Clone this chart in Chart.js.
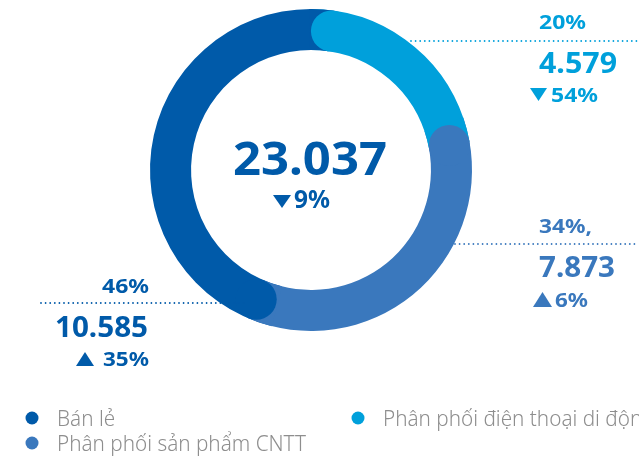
<!DOCTYPE html>
<html>
<head>
<meta charset="utf-8">
<script src="https://cdn.jsdelivr.net/npm/chart.js@4/dist/chart.umd.min.js"></script>
<style>
  html, body { margin: 0; padding: 0; background: #ffffff; }
  #wrap { width: 639px; height: 461px; position: relative; }
</style>
</head>
<body>
<div id="wrap"><canvas id="revenueChart"></canvas></div>
<script>
// co cau doanh thu theo mang
const segmentLabels = ["Phân phối điện thoại di động", "Phân phối sản phẩm CNTT", "Bán lẻ"];
const segmentValues = [4579, 7873, 10585];
const segmentShares = ["20%", "34%,", "46%"];
const segmentChanges = ["▼54%", "▲6%", "▲ 35%"];
const segmentColors = ["#00A0DB", "#3A78BD", "#005AA9"];

const totalValue = 23037;
const totalChange = "▼9%";

// thu tu chu thich
const legendOrder = [2, 0, 1];

function formatVN(n) {
    return String(n).replace(/\B(?=(\d{3})+(?!\d))/g, ".");
}

const FONT = "'Noto Sans', sans-serif";

// ve chu, co gian ngang cho vua khung left..right
function fitText(ctx, str, left, right, y, size, color, weight) {
    ctx.save();
    ctx.font = (weight || 700) + " " + size + "px " + FONT;
    ctx.fillStyle = color;
    ctx.textAlign = "left";
    ctx.textBaseline = "alphabetic";
    const w = ctx.measureText(str).width;
    ctx.translate(left, y);
    ctx.scale((right - left) / w, 1);
    ctx.fillText(str, 0, 0);
    ctx.restore();
}

function triangle(ctx, x1, x2, top, bottom, up, color) {
    ctx.fillStyle = color;
    ctx.beginPath();
    if (up) {
        ctx.moveTo(x1, bottom);
        ctx.lineTo(x2, bottom);
        ctx.lineTo((x1 + x2) / 2, top);
    } else {
        ctx.moveTo(x1, top);
        ctx.lineTo(x2, top);
        ctx.lineTo((x1 + x2) / 2, bottom);
    }
    ctx.closePath();
    ctx.fill();
}

// "▲6%" -> mui ten + chu
function change(ctx, str, tri, box, color) {
    triangle(ctx, tri[0], tri[1], tri[2], tri[3], str[0] === "▲", color);
    fitText(ctx, str.slice(1).trim(), box[0], box[1], box[2], box[3], color);
}

function dotted(ctx, x1, x2, y, color) {
    ctx.fillStyle = color;
    for (let x = x1; x <= x2; x += 4.6) {
        ctx.beginPath();
        ctx.arc(x, y, 0.9, 0, Math.PI * 2);
        ctx.fill();
    }
}

// dau tron o dau moi cung, de len cung truoc do
const roundCaps = {
    id: "roundCaps",
    afterDatasetsDraw(chart) {
        const ctx = chart.ctx;
        const arcs = chart.getDatasetMeta(0).data;
        ctx.save();
        arcs.forEach(function (arc, i) {
            const prev = (i + arcs.length - 1) % arcs.length;
            const p = arc.getProps(["x", "y", "startAngle", "innerRadius", "outerRadius"], true);
            const half = (p.outerRadius - p.innerRadius) / 2;
            const mid = p.innerRadius + half;
            const d = half / mid;
            // phan vuong cua cung truoc
            ctx.fillStyle = segmentColors[prev];
            ctx.beginPath();
            ctx.arc(p.x, p.y, p.outerRadius, p.startAngle - 0.01, p.startAngle + d);
            ctx.arc(p.x, p.y, p.innerRadius, p.startAngle + d, p.startAngle - 0.01, true);
            ctx.closePath();
            ctx.fill();
            // dau tron
            ctx.fillStyle = segmentColors[i];
            ctx.beginPath();
            ctx.arc(p.x + mid * Math.cos(p.startAngle + d), p.y + mid * Math.sin(p.startAngle + d), half, 0, Math.PI * 2);
            ctx.fill();
        });
        ctx.restore();
    }
};

// nhan gia tri, tong va chu thich
const labelsPlugin = {
    id: "labelsPlugin",
    afterDraw(chart) {
        const ctx = chart.ctx;
        const c = segmentColors;
        ctx.save();

        // tong o giua
        fitText(ctx, formatVN(totalValue), 233, 387, 175, 46, c[2]);
        change(ctx, totalChange, [273, 291, 195, 208], [294, 330, 208, 25], c[2]);

        // dien thoai di dong
        dotted(ctx, 411, 637, 41, c[0]);
        fitText(ctx, segmentShares[0], 539, 586, 29, 19, c[0]);
        fitText(ctx, formatVN(segmentValues[0]), 539, 617, 73, 28, c[0]);
        change(ctx, segmentChanges[0], [530, 547, 88, 101], [551, 598, 102, 20], c[0]);

        // san pham CNTT
        dotted(ctx, 455, 637, 244, c[1]);
        fitText(ctx, segmentShares[1], 539, 592, 233, 20, c[1]);
        fitText(ctx, formatVN(segmentValues[1]), 539, 615, 277, 28, c[1]);
        change(ctx, segmentChanges[1], [533, 552, 292, 307], [555, 588, 307, 20], c[1]);

        // ban le
        dotted(ctx, 41, 245, 303, c[2]);
        fitText(ctx, segmentShares[2], 102, 149, 293, 20, c[2]);
        fitText(ctx, formatVN(segmentValues[2]), 55, 148, 337, 28, c[2]);
        change(ctx, segmentChanges[2], [76, 94, 352, 366], [103, 149, 366, 20], c[2]);

        // chu thich
        ctx.font = "300 22px " + FONT;
        const sx = 249 / ctx.measureText(segmentLabels[1]).width;
        const spots = [[32, 418], [358, 418], [32, 443]];
        legendOrder.forEach(function (idx, k) {
            const s = spots[k];
            ctx.fillStyle = c[idx];
            ctx.beginPath();
            ctx.arc(s[0], s[1], 6.5, 0, Math.PI * 2);
            ctx.fill();
            ctx.save();
            ctx.translate(s[0] + 25, s[1] + 8);
            ctx.scale(sx, 1);
            ctx.fillStyle = "#8E8E8E";
            ctx.textAlign = "left";
            ctx.textBaseline = "alphabetic";
            ctx.fillText(segmentLabels[idx], 0, 0);
            ctx.restore();
        });

        ctx.restore();
    }
};

new Chart(document.getElementById("revenueChart"), {
    type: "doughnut",
    data: {
        labels: segmentLabels,
        datasets: [{
            data: segmentValues,
            backgroundColor: segmentColors,
            borderWidth: 0
        }]
    },
    options: {
        responsive: true,
        maintainAspectRatio: false,
        animation: false,
        cutout: "74.5%",
        layout: {
            padding: { left: 150, right: 167, top: 9, bottom: 130 }
        },
        plugins: {
            legend: { display: false },
            tooltip: { enabled: false }
        }
    },
    plugins: [roundCaps, labelsPlugin]
});
</script>
</body>
</html>
